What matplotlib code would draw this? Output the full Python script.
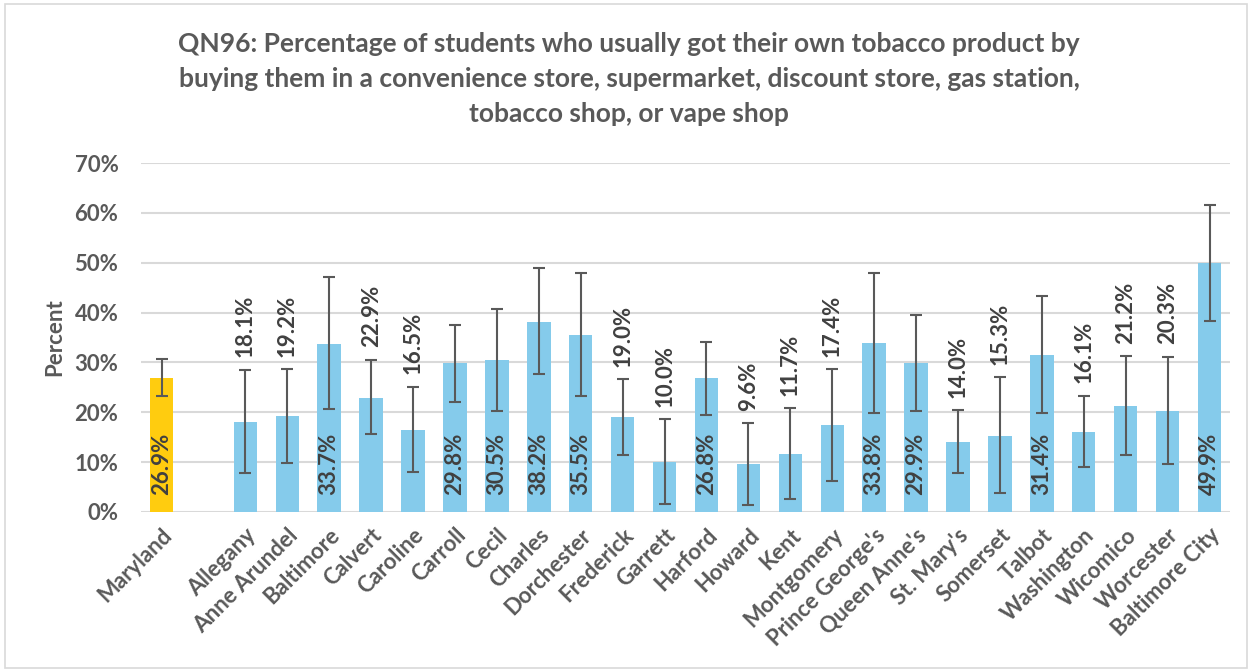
import matplotlib
matplotlib.use("Agg")
import matplotlib.pyplot as plt
from matplotlib.patches import Rectangle
import numpy as np

categories = ["Maryland", "", "Allegany", "Anne Arundel", "Baltimore", "Calvert", "Caroline",
              "Carroll", "Cecil", "Charles", "Dorchester", "Frederick", "Garrett", "Harford",
              "Howard", "Kent", "Montgomery", "Prince George's", "Queen Anne's", "St. Mary's",
              "Somerset", "Talbot", "Washington", "Wicomico", "Worcester", "Baltimore City"]
values = [26.9, np.nan, 18.1, 19.2, 33.7, 22.9, 16.5, 29.8, 30.5, 38.2, 35.5, 19.0, 10.0, 26.8,
          9.6, 11.7, 17.4, 33.8, 29.9, 14.0, 15.3, 31.4, 16.1, 21.2, 20.3, 49.9]
ci_low = [23.3, np.nan, 7.9, 9.9, 20.6, 15.6, 8.1, 22.1, 20.3, 27.7, 23.3, 11.5, 1.5, 19.5,
          1.4, 2.7, 6.3, 19.8, 20.2, 7.8, 3.8, 19.8, 9.0, 11.4, 9.6, 38.3]
ci_high = [30.6, np.nan, 28.5, 28.6, 47.1, 30.5, 25.1, 37.6, 40.8, 48.9, 47.9, 26.6, 18.6, 34.2,
           17.8, 20.8, 28.6, 47.9, 39.6, 20.4, 27.0, 43.3, 23.3, 31.2, 31.1, 61.5]
yticks = [0, 10, 20, 30, 40, 50, 60, 70]
title = ("QN96: Percentage of students who usually got their own tobacco product by\n"
         "buying them in a convenience store, supermarket, discount store, gas station,\n"
         "tobacco shop, or vape shop")

plt.rcParams['font.family'] = ['Lato', 'DejaVu Sans']
TXT = "#595959"
LBL = "#404040"
FS = 16

fig = plt.figure(figsize=(12.52, 6.71), dpi=100)
ax = fig.add_axes([0.1123, 0.237, 0.8705, 0.520])

x = np.arange(len(categories))
vals = np.array(values, dtype=float)
lo = np.array(ci_low, dtype=float)
hi = np.array(ci_high, dtype=float)
colors = ["#FFCC0F" if c == "Maryland" else "#85CBEB" for c in categories]

ax.bar(x, np.nan_to_num(vals), width=0.56, color=colors, zorder=2)
mask = ~np.isnan(vals)
ax.errorbar(x[mask], vals[mask], yerr=[vals[mask] - lo[mask], hi[mask] - vals[mask]],
            fmt='none', ecolor="#595959", elinewidth=1.5, capsize=4.5, capthick=1.5, zorder=3)

for xi, v, h in zip(x, vals, hi):
    if np.isnan(v):
        continue
    if v >= 26:
        ax.annotate(f"{v:.1f}%", xy=(xi, 0), xytext=(0, 12), textcoords="offset points",
                    rotation=90, ha="center", va="bottom", fontsize=FS, fontweight="bold",
                    color=LBL, zorder=4)
    else:
        ax.annotate(f"{v:.1f}%", xy=(xi, h), xytext=(0, 9), textcoords="offset points",
                    rotation=90, ha="center", va="bottom", fontsize=FS, fontweight="bold",
                    color=LBL, zorder=4)

ax.set_xlim(-0.5, len(categories) - 0.5)
ax.set_ylim(0, 70)
ax.set_yticks(yticks)
ax.set_yticklabels([f"{t}%" for t in yticks], fontsize=FS, fontweight="bold", color=TXT)
ax.yaxis.grid(True, color="#D9D9D9", linewidth=1.5, zorder=0)
ax.set_axisbelow(True)
for s in ax.spines.values():
    s.set_visible(False)
ax.tick_params(axis="y", length=0, pad=16)
ax.tick_params(axis="x", length=0, pad=9)
ax.set_xticks(x)
ax.set_xticklabels(categories, rotation=45, ha="right", rotation_mode="anchor",
                   fontsize=FS, fontweight="bold", color=TXT)
ax.set_ylabel("Percent", fontsize=FS, fontweight="bold", color=TXT, labelpad=7)

fig.text(0.5025, 0.952, title, ha="center", va="top", fontsize=19, fontweight="bold",
         color=TXT, linespacing=1.54)

fig.patches.append(Rectangle((0.004, 0.004), 0.992, 0.99, transform=fig.transFigure,
                             fill=False, edgecolor="#D9D9D9", linewidth=1.2))

fig.savefig("out.png", dpi=100)
